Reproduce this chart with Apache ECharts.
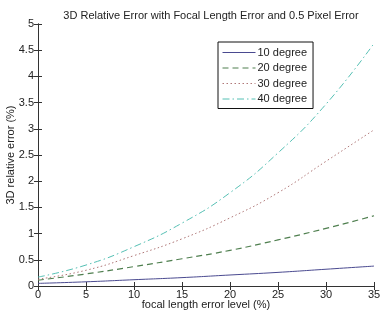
<!DOCTYPE html>
<html>
<head>
<meta charset="utf-8">
<script src="https://cdn.jsdelivr.net/npm/echarts@6/dist/echarts.min.js"></script>
<style>
  html, body { margin: 0; padding: 0; background: #fff; }
  #chart { width: 381px; height: 316px; }
</style>
</head>
<body>
<div id="chart"></div>
<script>
// focal length error level (%)
const errorLevels = [0, 5, 10, 15, 20, 25, 30, 35]
const deg10 = [0.05, 0.08, 0.12, 0.16, 0.21, 0.26, 0.32, 0.38]
const deg20 = [0.11, 0.23, 0.37, 0.52, 0.68, 0.88, 1.10, 1.34]
const deg30 = [0.13, 0.30, 0.58, 0.90, 1.30, 1.78, 2.38, 2.98]
const deg40 = [0.17, 0.40, 0.75, 1.20, 1.78, 2.54, 3.47, 4.63]
const seriesNames = ['10 degree', '20 degree', '30 degree', '40 degree']
const yTicks = [0, 0.5, 1, 1.5, 2, 2.5, 3, 3.5, 4, 4.5, 5]

const font = 'Liberation Sans, Arial, sans-serif'
const axisColor = '#333'

const pairs = (vals) => vals.map((v, i) => [errorLevels[i], v])

const chart = echarts.init(document.getElementById('chart'))

const lineSeries = (name, vals, color, type, width) => ({
  name: name,
  type: 'line',
  smooth: true,
  symbol: 'none',
  xAxisIndex: 0,
  yAxisIndex: 0,
  lineStyle: { color: color, type: type, width: width },
  itemStyle: { color: color },
  data: pairs(vals)
})

const option = {
  animation: false,
  backgroundColor: '#fff',
  title: {
    text: '3D Relative Error with Focal Length Error and 0.5 Pixel Error',
    left: 206,
    textAlign: 'center',
    top: 5,
    textStyle: { fontFamily: font, fontSize: 11, fontWeight: 'normal', color: '#222' }
  },
  legend: {
    orient: 'vertical',
    left: 218,
    top: 42,
    padding: [5, 6, 4, 4],
    itemWidth: 33,
    itemHeight: 10,
    itemGap: 4.5,
    borderColor: '#111',
    borderWidth: 1,
    backgroundColor: '#fff',
    itemStyle: { opacity: 0 },
    lineStyle: { width: 1 },
    textStyle: { fontFamily: font, fontSize: 11, color: '#222', padding: [0, 0, 0, -3] },
    data: seriesNames
  },
  grid: { left: 38, right: 7, top: 24, bottom: 30, containLabel: false, outerBoundsMode: 'none' },
  xAxis: [{
    type: 'value',
    min: 0,
    max: 35,
    interval: 5,
    name: 'focal length error level (%)',
    nameLocation: 'middle',
    nameGap: 13,
    nameMoveOverlap: false,
    nameTextStyle: { fontFamily: font, fontSize: 11, color: '#222' },
    axisLine: { show: true, lineStyle: { color: axisColor, width: 1 } },
    axisTick: { show: true, inside: true, length: 4, lineStyle: { color: axisColor } },
    axisLabel: { fontFamily: font, fontSize: 11, color: '#222', margin: 3 },
    splitLine: { show: false }
  }, {
    type: 'value',
    position: 'top',
    min: 0,
    max: 35,
    interval: 5,
    axisLine: { show: true, lineStyle: { color: axisColor, width: 1 } },
    axisTick: { show: true, inside: true, length: 4, lineStyle: { color: axisColor } },
    axisLabel: { show: false },
    splitLine: { show: false }
  }],
  yAxis: [{
    type: 'value',
    min: 0,
    max: 5,
    interval: 0.5,
    name: '3D relative error (%)',
    nameLocation: 'middle',
    nameGap: 22,
    nameMoveOverlap: false,
    nameTextStyle: { fontFamily: font, fontSize: 11, color: '#222' },
    axisLine: { show: true, lineStyle: { color: axisColor, width: 1 } },
    axisTick: { show: true, inside: true, length: 4, lineStyle: { color: axisColor } },
    axisLabel: {
      fontFamily: font, fontSize: 11, color: '#222', margin: 4,
      formatter: (v) => String(yTicks.find(t => Math.abs(t - v) < 1e-6) ?? v)
    },
    splitLine: { show: false }
  }, {
    type: 'value',
    position: 'right',
    min: 0,
    max: 5,
    interval: 0.5,
    axisLine: { show: true, lineStyle: { color: axisColor, width: 1 } },
    axisTick: { show: true, inside: true, length: 4, lineStyle: { color: axisColor } },
    axisLabel: { show: false },
    splitLine: { show: false }
  }],
  series: [
    lineSeries(seriesNames[0], deg10, '#4a4a90', 'solid', 1),
    lineSeries(seriesNames[1], deg20, '#4f7f4f', [6, 4], 1.2),
    lineSeries(seriesNames[2], deg30, '#b07878', [1.5, 2.5], 1),
    lineSeries(seriesNames[3], deg40, '#55c0b4', [7, 3, 1.5, 3], 1)
  ]
}

chart.setOption(option)
</script>
</body>
</html>
